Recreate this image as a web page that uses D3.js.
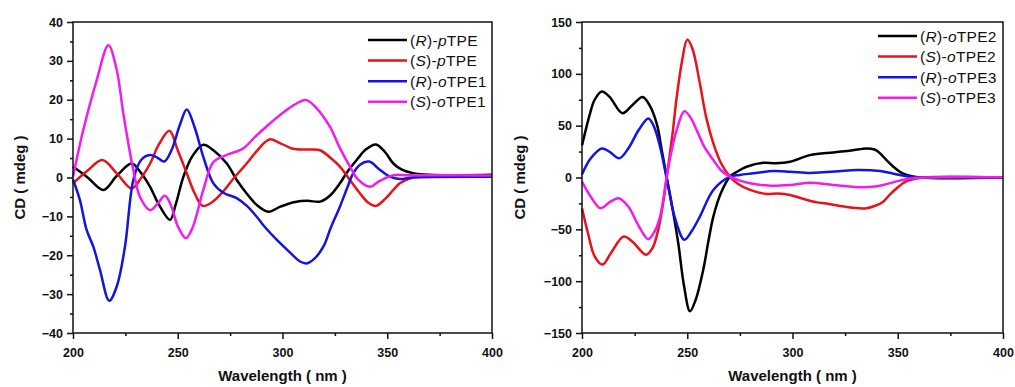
<!DOCTYPE html>
<html>
<head>
<meta charset="utf-8">
<script src="https://cdn.jsdelivr.net/npm/d3@7"></script>
<style>
  body { margin: 0; background: #fff; }
  svg { display: block; }
  text { font-family: Arial, "Liberation Sans", sans-serif; fill: #111; }
</style>
</head>
<body>
<div id="chart"></div>
<script>
// ---- data: [wavelength nm, CD mdeg] ----
const rpTPE = [[200,2.8],[207,0],[214.5,-3.2],[221,0.5],[228,3.6],[232,1.5],[236.8,-2.4],[241,-7],[246.3,-10.9],[249,-7],[252.7,0.2],[257,5.5],[262.2,8.4],[267,7],[273.4,3.6],[278,-0.5],[282.9,-4.1],[288,-7.2],[293.2,-8.8],[299,-7.5],[306,-6.3],[312,-6.0],[318,-6.2],[323,-4.5],[327.4,-1.5],[331,1.5],[335.4,4.5],[340,7.3],[344.6,8.5],[349,6.5],[352.9,3.6],[357,2.0],[362.4,1.1],[370,0.7],[400,0.7]];
const spTPE = [[200,-1.5],[207,1.8],[214,4.5],[221,1],[228,-2.8],[232,-0.5],[236.8,3.6],[241,8.5],[246,12],[250,7],[254.3,1.1],[258,-4],[261.9,-7.3],[266,-6.5],[271.7,-3.6],[277,0],[282.9,3.6],[288,7],[293.7,9.8],[299,8.8],[305,7.4],[312,7.2],[317.9,7.0],[323,5],[327.4,2.8],[332,-0.5],[337,-4.1],[341,-6.5],[344.6,-7.3],[349,-5.5],[352.9,-3.2],[356,-1.5],[360,-0.4],[366,0.3],[400,0.3]];
const roTPE1 = [[200,-0.5],[203.3,-5.8],[206.5,-13.5],[209.7,-17.8],[212.9,-23.8],[217.3,-31.7],[220.9,-28],[224.8,-17.8],[228.8,-0.6],[232.5,4.5],[236.8,5.8],[240,5.2],[243.6,4.1],[247,7],[251,13.5],[254.3,17.5],[258,13],[262.2,5.3],[267,-1.5],[272,-4],[278.1,-5.3],[283,-7.3],[287.7,-10.1],[292,-13],[297.2,-16],[303,-19],[308.4,-21.6],[311.5,-22.1],[315,-21],[319.5,-17.8],[323,-13],[327.4,-7.5],[331,-2.5],[333.8,1.1],[337,3.3],[341.4,4.1],[346,2.2],[351.3,0.2],[356,-0.4],[362,0],[400,0.2]];
const soTPE1 = [[200,0.2],[204.9,12.2],[211.3,25],[216.9,34],[220.9,27.6],[224,16.5],[228.8,1.9],[232,-5],[236.8,-8.4],[240,-7],[243.9,-4.7],[247,-7.5],[250,-12.5],[253.9,-15.6],[257,-13],[262.2,-3.2],[267,4],[273.4,5.8],[281.3,7.5],[287,10.5],[294,13.9],[301,17],[308.4,19.5],[311.5,19.9],[316,18],[322.7,13],[327,8],[332.2,2.8],[336,-0.5],[341.8,-2.4],[346,-1],[352.9,0.6],[360,0.6],[400,0.5]];

const roTPE2 = [[200,31],[203.8,61.7],[206,75],[209.4,83],[213,78],[219.2,62],[224,70],[228.8,77.7],[232,70],[235.5,52],[238,25],[240.2,0.8],[243,-30],[245.7,-63],[248.5,-105],[251.3,-129],[254,-118],[257.6,-89],[260,-62],[262.4,-37.7],[266,-15],[270.3,0.8],[274,6],[278.2,10.4],[286.1,14.2],[292,13.8],[298.8,15.2],[308.3,21.6],[319.4,24.2],[328,26],[335.2,28],[339,27],[341.6,23.3],[345,16],[347.9,10.4],[351,5.5],[354.3,2.4],[360.6,0],[400,0]];
const soTPE2 = [[200,-29.6],[203,-55],[206,-76],[209.8,-84],[214,-72],[219.8,-57],[224,-62],[230.4,-74.5],[233.5,-68],[236.2,-50.5],[238.5,-25],[240.5,4],[243,42],[245,77.7],[247.5,112],[250,133],[252.5,124],[256,90.6],[259,58],[262.4,32.9],[266,14],[270.3,0.8],[274,-6],[279.8,-12],[287.7,-15.9],[293,-15.5],[298.8,-16.8],[304,-20],[311.5,-24],[316,-25],[322.6,-27.4],[330,-29.5],[335.2,-29.6],[339,-27.5],[343.1,-23.3],[346,-17],[349.5,-10.4],[352.5,-5.5],[355.8,-2.4],[362,0],[400,0]];
const roTPE3 = [[200,3],[204,18],[209.4,28],[213,25],[217.7,18.5],[222,28],[227,46],[231.5,57],[234,50],[237.1,29.6],[241,-8.8],[244,-38],[248.6,-60],[252,-52],[256,-37.7],[262.4,-12],[270.3,0.8],[275,2.5],[281.4,4],[290.9,6.2],[298.8,5.6],[308.3,4.3],[314.6,5],[322,6],[330.5,7.2],[341.6,6.2],[346,4.5],[351,2.4],[357,0.5],[400,0]];
const soTPE3 = [[200,-4],[204,-18],[208.8,-29.6],[213,-24],[217.4,-20],[222,-28],[227,-47],[231.5,-59.5],[234.5,-52],[237.1,-37.7],[240.5,4],[243,30],[245,46],[248.6,64],[251.5,58],[254.5,45.7],[258,30],[262.4,16.8],[266,7],[270.3,0.8],[275,-3],[279.8,-5.6],[289.3,-7.9],[298.8,-7.2],[308.3,-5],[319.4,-7.2],[332,-9.4],[338,-9],[343.1,-7.2],[351,-3],[358,-0.5],[400,0.3]];

const leftNames = ["(R)-pTPE", "(S)-pTPE", "(R)-oTPE1", "(S)-oTPE1"];
const rightNames = ["(R)-oTPE2", "(S)-oTPE2", "(R)-oTPE3", "(S)-oTPE3"];
const colors = ["#000000", "#e8121a", "#1414e0", "#f01cf0"];

const xTicks = [200, 250, 300, 350, 400];
const xMinor = [225, 275, 325, 375];
const leftYTicks = [-40, -30, -20, -10, 0, 10, 20, 30, 40];
const leftYMinor = [-35, -25, -15, -5, 5, 15, 25, 35];
const rightYTicks = [-150, -100, -50, 0, 50, 100, 150];
const rightYMinor = [-125, -75, -25, 25, 75, 125];

const svg = d3.select("#chart").append("svg")
    .attr("width", 1015)
    .attr("height", 387);

function drawPanel(opt) {
    const x = d3.scaleLinear().domain([200, 400]).range([opt.x0, opt.x1]);
    const y = d3.scaleLinear().domain(opt.yDomain).range([opt.y1, opt.y0]);
    const g = svg.append("g");

    // minor ticks first, then major ticks with labels
    g.append("g").attr("transform", `translate(0,${opt.y1})`)
        .call(d3.axisBottom(x).tickValues(xMinor).tickSize(3).tickFormat(""));
    g.append("g").attr("transform", `translate(0,${opt.y1})`)
        .call(d3.axisBottom(x).tickValues(xTicks).tickSize(6).tickPadding(9));
    g.append("g").attr("transform", `translate(${opt.x0},0)`)
        .call(d3.axisLeft(y).tickValues(opt.yMinor).tickSize(3).tickFormat(""));
    g.append("g").attr("transform", `translate(${opt.x0},0)`)
        .call(d3.axisLeft(y).tickValues(opt.yTicks).tickSize(6).tickPadding(4));

    g.selectAll(".domain").remove();
    g.selectAll(".tick line").attr("stroke", "#111").attr("stroke-width", 1.5);
    g.selectAll(".tick text")
        .style("font-family", "Arial, 'Liberation Sans', sans-serif")
        .style("font-size", "12.5px")
        .style("font-weight", "bold")
        .attr("fill", "#111");

    // curves
    const line = d3.line()
        .x(d => x(d[0]))
        .y(d => y(d[1]))
        .curve(d3.curveCatmullRom.alpha(0.5));
    opt.series.forEach((s, i) => {
        g.append("path")
            .datum(s)
            .attr("d", line)
            .attr("fill", "none")
            .attr("stroke", colors[i])
            .attr("stroke-width", 2.5)
            .attr("stroke-linejoin", "round");
    });

    // frame
    g.append("rect")
        .attr("x", opt.x0).attr("y", opt.y0)
        .attr("width", opt.x1 - opt.x0).attr("height", opt.y1 - opt.y0)
        .attr("fill", "none")
        .attr("stroke", "#111")
        .attr("stroke-width", 1.5);

    // axis titles
    g.append("text")
        .attr("x", (opt.x0 + opt.x1) / 2)
        .attr("y", 381)
        .attr("text-anchor", "middle")
        .style("font-size", "15px")
        .style("font-weight", "bold")
        .text("Wavelength ( nm )");
    g.append("text")
        .attr("transform", `translate(${opt.titleX},${(opt.y0 + opt.y1) / 2}) rotate(-90)`)
        .attr("text-anchor", "middle")
        .style("font-size", "15px")
        .style("font-weight", "bold")
        .text("CD ( mdeg )");

    // legend
    opt.names.forEach((name, i) => {
        const ly = opt.legendY + i * 20.6;
        g.append("line")
            .attr("x1", opt.legendX).attr("x2", opt.legendX + 39)
            .attr("y1", ly).attr("y2", ly)
            .attr("stroke", colors[i])
            .attr("stroke-width", 2.5);
        const t = g.append("text")
            .attr("x", opt.legendX + 42)
            .attr("y", ly + 5.5)
            .style("font-size", "15.5px")
            .style("letter-spacing", "0.3px");
        t.append("tspan").text("(");
        t.append("tspan").style("font-style", "italic").text(name[1]);
        t.append("tspan").text(")-");
        t.append("tspan").style("font-style", "italic").text(name[4]);
        t.append("tspan").text(name.slice(5));
    });
}

drawPanel({
    x0: 73, x1: 492, y0: 22, y1: 333,
    yDomain: [-40, 40], yTicks: leftYTicks, yMinor: leftYMinor,
    series: [rpTPE, spTPE, roTPE1, soTPE1],
    names: leftNames, legendX: 368, legendY: 40, titleX: 24.5
});

drawPanel({
    x0: 582, x1: 1003, y0: 22, y1: 333,
    yDomain: [-150, 150], yTicks: rightYTicks, yMinor: rightYMinor,
    series: [roTPE2, soTPE2, roTPE3, soTPE3],
    names: rightNames, legendX: 878, legendY: 36, titleX: 524.5
});
</script>
</body>
</html>
